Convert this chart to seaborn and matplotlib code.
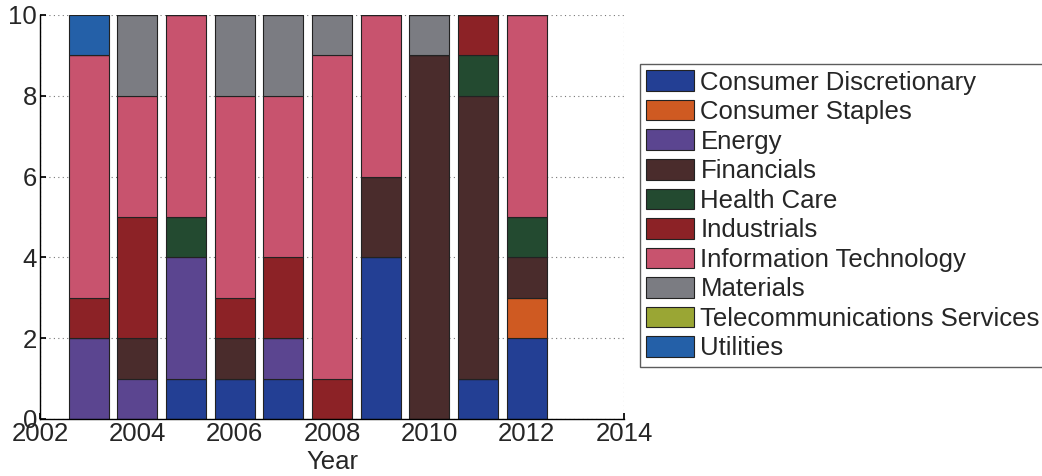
import numpy as np
import pandas as pd
import matplotlib
matplotlib.use("Agg")
import matplotlib.pyplot as plt
from matplotlib.patches import Patch
import seaborn as sns

years = [2003, 2004, 2005, 2006, 2007, 2008, 2009, 2010, 2011, 2012]
sectors = ["Consumer Discretionary", "Consumer Staples", "Energy", "Financials",
           "Health Care", "Industrials", "Information Technology", "Materials",
           "Telecommunications Services", "Utilities"]
consumer_discretionary = [0, 0, 1, 1, 1, 0, 4, 0, 1, 2]
consumer_staples       = [0, 0, 0, 0, 0, 0, 0, 0, 0, 1]
energy                 = [2, 1, 3, 0, 1, 0, 0, 0, 0, 0]
financials             = [0, 1, 0, 1, 0, 0, 2, 9, 7, 1]
health_care            = [0, 0, 1, 0, 0, 0, 0, 0, 1, 1]
industrials            = [1, 3, 0, 1, 2, 1, 0, 0, 1, 0]
information_technology = [6, 3, 5, 5, 4, 8, 4, 0, 0, 5]
materials              = [0, 2, 0, 2, 2, 1, 0, 1, 0, 0]
telecommunications     = [0, 0, 0, 0, 0, 0, 0, 0, 0, 0]
utilities              = [1, 0, 0, 0, 0, 0, 0, 0, 0, 0]
series = [consumer_discretionary, consumer_staples, energy, financials, health_care,
          industrials, information_technology, materials, telecommunications, utilities]
colors = ["#233f94", "#cf5a22", "#5b4590", "#4a2c2c", "#234a30",
          "#8c2226", "#c8536e", "#7b7c82", "#9aa634", "#2460a8"]

rows = []
for s, vals in zip(sectors, series):
    for y, v in zip(years, vals):
        rows.append({"Year": y, "Sector": s, "Count": v})
df = pd.DataFrame(rows)

sns.set_theme(style="white")
plt.rcParams["font.family"] = ["Liberation Sans", "DejaVu Sans"]
FS = 18.5

fig = plt.figure(figsize=(10.42, 4.76), dpi=100)
ax = fig.add_axes([40/1042, 1-419/476, (624-40)/1042, (419-15)/476])

# seaborn stacks the last hue level at the bottom, so pass the order reversed
sns.histplot(data=df, x="Year", hue="Sector", weights="Count", hue_order=sectors[::-1],
             palette=colors[::-1], multiple="stack", discrete=True, shrink=0.82,
             alpha=1, edgecolor="#222222", linewidth=0.8, legend=False, ax=ax)

ax.set_xlim(2002, 2014)
ax.set_ylim(0, 10)
ax.set_xticks(np.arange(2002, 2015, 2))
ax.set_yticks(np.arange(0, 11, 2))
ax.set_xlabel("Year", fontsize=FS, labelpad=3)
ax.set_ylabel("")
ax.tick_params(axis="both", labelsize=FS, direction="in", length=4, color="black",
               bottom=True, left=True, pad=2)
ax.grid(True, linestyle=(0, (1, 3)), color="#777777", linewidth=0.8)
ax.set_axisbelow(True)
for side in ["top", "right"]:
    ax.spines[side].set_visible(False)
for side in ["left", "bottom"]:
    ax.spines[side].set_color("black")
    ax.spines[side].set_linewidth(1.0)

handles = [Patch(facecolor=c, edgecolor="#222222", linewidth=0.8, label=s)
           for s, c in zip(sectors, colors)]
leg = fig.legend(handles=handles, loc="upper left", bbox_to_anchor=(640/1042, 1-64/476),
                 fontsize=FS, frameon=True, fancybox=False, edgecolor="#333333",
                 borderaxespad=0, handlelength=1.85, handleheight=0.85,
                 labelspacing=0.21, handletextpad=0.25, borderpad=0.25)
leg.get_frame().set_linewidth(1.0)

fig.savefig("out.png", dpi=100)
